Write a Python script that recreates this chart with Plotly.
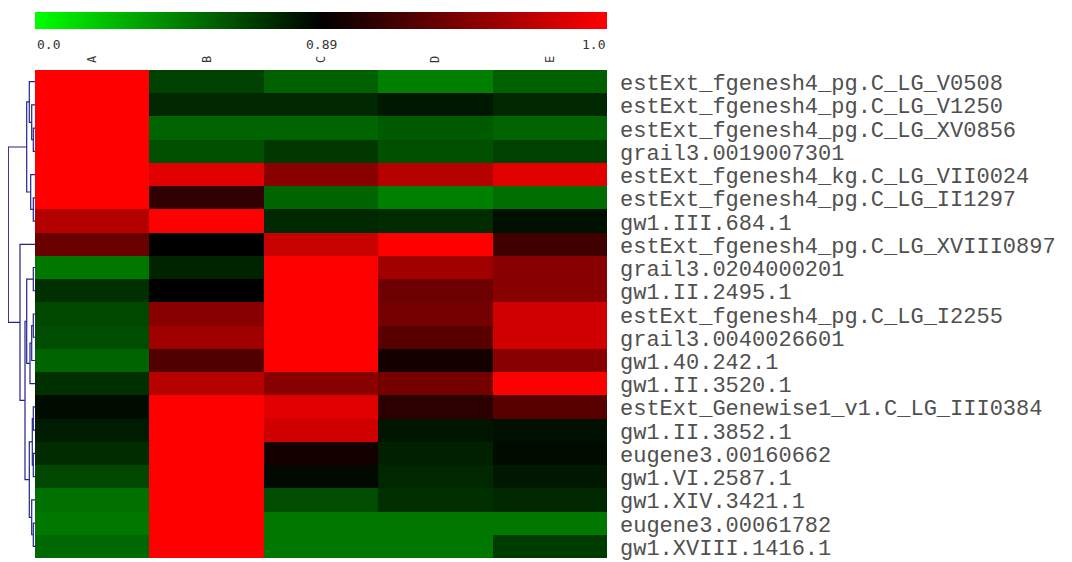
import numpy as np
import plotly.graph_objects as go

# ---------------- data ----------------
columns = ["A", "B", "C", "D", "E"]
genes = [
    "estExt_fgenesh4_pg.C_LG_V0508",
    "estExt_fgenesh4_pg.C_LG_V1250",
    "estExt_fgenesh4_pg.C_LG_XV0856",
    "grail3.0019007301",
    "estExt_fgenesh4_kg.C_LG_VII0024",
    "estExt_fgenesh4_pg.C_LG_II1297",
    "gw1.III.684.1",
    "estExt_fgenesh4_pg.C_LG_XVIII0897",
    "grail3.0204000201",
    "gw1.II.2495.1",
    "estExt_fgenesh4_pg.C_LG_I2255",
    "grail3.0040026601",
    "gw1.40.242.1",
    "gw1.II.3520.1",
    "estExt_Genewise1_v1.C_LG_III0384",
    "gw1.II.3852.1",
    "eugene3.00160662",
    "gw1.VI.2587.1",
    "gw1.XIV.3421.1",
    "eugene3.00061782",
    "gw1.XVIII.1416.1",
]

col_A = [1.0, 1.0, 1.0, 1.0, 1.0, 1.0, 0.968, 0.935, 0.471, 0.723, 0.639,
         0.625, 0.541, 0.723, 0.848, 0.792, 0.737, 0.639, 0.499, 0.471, 0.527]
col_B = [0.667, 0.750, 0.541, 0.611, 0.987, 0.911, 1.0, 0.890, 0.764, 0.890, 0.949,
         0.959, 0.925, 0.969, 1.0, 1.0, 1.0, 1.0, 1.0, 1.0, 1.0]
col_C = [0.555, 0.750, 0.541, 0.695, 0.949, 0.541, 0.750, 0.976, 1.0, 1.0, 1.0,
         1.0, 1.0, 0.949, 0.987, 0.980, 0.899, 0.862, 0.625, 0.471, 0.471]
col_D = [0.443, 0.806, 0.576, 0.611, 0.969, 0.443, 0.737, 1.0, 0.959, 0.937, 0.940,
         0.928, 0.899, 0.940, 0.909, 0.820, 0.778, 0.750, 0.723, 0.471, 0.471]
col_E = [0.555, 0.750, 0.541, 0.667, 0.987, 0.506, 0.834, 0.918, 0.949, 0.949, 0.980,
         0.980, 0.949, 1.0, 0.928, 0.834, 0.848, 0.806, 0.750, 0.471, 0.681]

# colour-scale anchor values
scale_min, scale_mid, scale_max = 0.0, 0.89, 1.0
scale_labels = ["0.0", "0.89", "1.0"]

# row dendrogram: (child_a, child_b, height); leaves 0..20, new nodes 21..
merges = [
    (2, 3, 1.7), (1, 21, 3.3), (0, 22, 5.7), (5, 6, 1.7), (4, 24, 4.3),
    (23, 25, 8.3), (8, 9, 1.7), (10, 11, 1.7), (28, 12, 3.3), (29, 13, 5.0),
    (27, 30, 8.3), (14, 15, 1.7), (16, 17, 1.7), (32, 33, 2.7), (19, 20, 1.7),
    (18, 35, 3.3), (34, 36, 5.7), (31, 37, 10.0), (7, 38, 15.0), (26, 39, 26.7),
]

# ---------------- layout geometry (page has an 8px body margin) ----------------
OFF = 8
W, H = 1072 - OFF, 562 - OFF
hm_x0, hm_x1 = 35 - OFF, 607 - OFF
hm_y0, hm_y1 = 70 - OFF, 558 - OFF
cb_y0, cb_y1 = 12 - OFF, 29 - OFF
lab_px = 44 - OFF
row_lab_x = 618 - OFF

def px_x(p):
    return p / W

def px_y(p):
    return 1 - p / H

z = np.column_stack([col_A, col_B, col_C, col_D, col_E])
n_rows = len(genes)
rows = list(range(n_rows))

colorscale = [[0.0, "#00ff00"], [scale_mid, "#000000"], [1.0, "#ff0000"]]

fig = go.Figure()

fig.add_trace(go.Heatmap(
    z=z, x=columns, y=rows, colorscale=colorscale,
    zmin=scale_min, zmax=scale_max, showscale=False,
    xaxis="x", yaxis="y", hoverinfo="skip",
))

# colour-bar strip (black at the middle, labelled 0.0 / 0.89 / 1.0)
strip_pos = np.linspace(0, 1, 301)
strip_val = np.interp(strip_pos, [0, 0.5, 1], [scale_min, scale_mid, scale_max])
fig.add_trace(go.Heatmap(
    z=[strip_val], x=strip_pos, y=[0], colorscale=colorscale,
    zmin=scale_min, zmax=scale_max, showscale=False,
    xaxis="x2", yaxis="y2", hoverinfo="skip",
))

# dendrogram
node_y = {i: float(i) for i in rows}
node_h = {i: 0.0 for i in rows}
dx, dy = [], []
for k, (a, b, h) in enumerate(merges):
    nid = n_rows + k
    ya, yb = node_y[a], node_y[b]
    dx += [node_h[a], h, h, node_h[b], None]
    dy += [ya, ya, yb, yb, None]
    node_y[nid] = (ya + yb) / 2
    node_h[nid] = h

fig.add_trace(go.Scatter(
    x=dx, y=dy, mode="lines", line=dict(color="#23238f", width=1.2),
    xaxis="x3", yaxis="y", hoverinfo="skip", showlegend=False,
))

mono = "Liberation Mono, Courier New, monospace"

fig.update_layout(
    width=W, height=H,
    margin=dict(l=0, r=0, t=0, b=0),
    paper_bgcolor="white", plot_bgcolor="white",
    showlegend=False,
    xaxis=dict(
        domain=[px_x(hm_x0), px_x(hm_x1)], anchor="y", side="top",
        tickangle=-90, tickfont=dict(family="DejaVu Sans Mono", size=12, color="#333"),
        showgrid=False, zeroline=False, showline=False, ticks="",
        ticklabelstandoff=6,
    ),
    yaxis=dict(
        domain=[px_y(hm_y1), px_y(hm_y0)], anchor="x",
        range=[n_rows - 0.5, -0.5], showticklabels=False,
        showgrid=False, zeroline=False, showline=False, ticks="",
    ),
    xaxis2=dict(domain=[px_x(hm_x0), px_x(hm_x1)], anchor="y2", visible=False),
    yaxis2=dict(domain=[px_y(cb_y1), px_y(cb_y0)], anchor="x2", visible=False),
    xaxis3=dict(domain=[0, px_x(hm_x0)], anchor="y", range=[hm_x0, 0], visible=False),
)

# row labels (gene names) to the right of the heatmap
for i, g in zip(rows, genes):
    fig.add_annotation(x=px_x(row_lab_x), y=i, xref="paper", yref="y",
                       text=g, showarrow=False, xanchor="left", yanchor="middle",
                       yshift=-3, font=dict(family=mono, size=22, color="#505050"))

lab_font = dict(family="DejaVu Sans Mono", size=13, color="#333")
lab_y = px_y(lab_px)
fig.add_annotation(x=px_x(hm_x0), y=lab_y, xref="paper", yref="paper",
                   text=scale_labels[0], showarrow=False, xanchor="left",
                   yanchor="middle", font=lab_font)
fig.add_annotation(x=px_x((hm_x0 + hm_x1) / 2), y=lab_y, xref="paper", yref="paper",
                   text=scale_labels[1], showarrow=False, xanchor="center",
                   yanchor="middle", font=lab_font)
fig.add_annotation(x=px_x(hm_x1), y=lab_y, xref="paper", yref="paper",
                   text=scale_labels[2], showarrow=False, xanchor="right",
                   yanchor="middle", font=lab_font)

fig.write_html("out.html")
